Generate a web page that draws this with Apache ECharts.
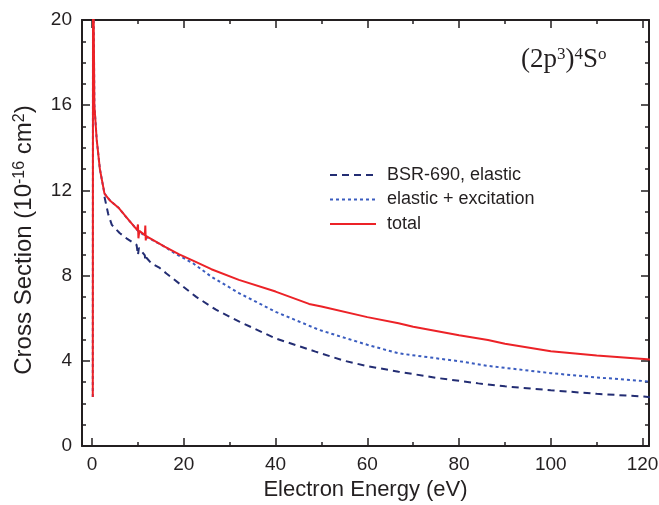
<!DOCTYPE html>
<html>
<head>
<meta charset="utf-8">
<script src="https://cdn.jsdelivr.net/npm/echarts@6/dist/echarts.min.js"></script>
<style>
  html, body { margin: 0; padding: 0; background: #fff; }
  #chart-container { width: 659px; height: 505px; }
</style>
</head>
<body>
<div id="chart-container"></div>
<script>
// Values: [energy (eV), cross section (1e-16 cm^2)]
const bsrElastic = [
  [2.7, 11.7], [3.5, 10.9], [4.3, 10.38], [6, 10.0], [7.5, 9.75], [9.7, 9.44],
  [9.9, 9.45], [10.0, 8.97], [10.2, 9.3], [11.5, 8.95], [11.6, 8.7], [11.8, 8.85],
  [12.9, 8.58], [14.75, 8.36], [16.2, 8.1], [22.7, 7.0], [27, 6.4], [32.1, 5.84],
  [40, 5.05], [48.7, 4.43], [55, 4.0], [60, 3.75], [66.8, 3.49], [75, 3.2],
  [84.2, 2.94], [90, 2.8], [100, 2.62], [110, 2.45], [120.3, 2.32], [122, 2.28]
];
const elasticExc = [
  [0.15, 2.3], [0.2, 21], [0.35, 20], [0.5, 16], [1.0, 14.4], [1.7, 13.0],
  [2.7, 11.85], [4, 11.5], [5.7, 11.2], [8, 10.6], [10, 10.1], [12, 9.8],
  [15.8, 9.36], [18, 9.05], [22, 8.58], [26, 7.95], [32.1, 7.17], [40, 6.3],
  [49.5, 5.45], [60, 4.75], [66.8, 4.35], [80, 3.98], [86.3, 3.76], [100, 3.42],
  [110, 3.22], [120.3, 3.05], [122, 3.0]
];
const total = [
  [0.15, 2.3], [0.2, 21], [0.35, 20], [0.5, 16], [1.0, 14.4], [1.7, 13.0],
  [2.7, 11.85], [4, 11.5], [5.7, 11.2], [8, 10.6], [9.8, 10.15], [10, 10.4],
  [10.1, 9.75], [10.3, 10.1], [11.5, 9.9], [11.6, 10.35], [11.7, 9.65], [11.8, 9.85],
  [15.8, 9.36], [19, 9.0], [22, 8.7], [26, 8.3], [32, 7.8], [40, 7.25],
  [47.3, 6.67], [50, 6.55], [60, 6.05], [66.8, 5.76], [70, 5.6], [80, 5.2],
  [86.3, 4.98], [90, 4.8], [100, 4.45], [110, 4.25], [120.3, 4.08], [122, 4.05]
];
const seriesNames = ['BSR-690, elastic', 'elastic + excitation', 'total'];
const xMajorTicks = [0, 20, 40, 60, 80, 100, 120];
const xMinorTicks = [10, 30, 50, 70, 90, 110];

const chart = echarts.init(document.getElementById('chart-container'));
const ink = '#231f20';
const sans = 'Liberation Sans';

// helper for the frame axes (x)
const frameX = (pos, ticks, len, withLine) => ({
  type: 'value', position: pos, min: -2.2, max: 121.4,
  axisLine: { show: withLine, onZero: false, lineStyle: { color: ink, width: 2 } },
  axisTick: { show: true, inside: true, length: len, customValues: ticks, lineStyle: { color: ink, width: 1.5 } },
  axisLabel: { show: false },
  splitLine: { show: false }
});

const xAxes = [
  Object.assign(frameX('bottom', xMajorTicks, 8, true), {
    axisLabel: { show: true, customValues: xMajorTicks, fontSize: 19, margin: 9, color: ink, fontFamily: sans },
    name: 'Electron Energy (eV)', nameLocation: 'middle', nameGap: 33,
    nameTextStyle: { fontSize: 22, color: ink, fontFamily: sans }
  }),
  frameX('bottom', xMinorTicks, 4, false),
  frameX('top', xMajorTicks, 8, true),
  frameX('top', xMinorTicks, 4, false)
];

const frameY = (pos, labels) => ({
  type: 'value', position: pos, min: 0, max: 20, interval: 4,
  axisLine: { show: true, onZero: false, lineStyle: { color: ink, width: 2 } },
  axisTick: { show: true, inside: true, length: 8, lineStyle: { color: ink, width: 1.5 } },
  minorTick: { show: true, splitNumber: 4, length: 4, lineStyle: { color: ink, width: 1.5 } },
  axisLabel: { show: labels, fontSize: 19, margin: 10, color: ink, fontFamily: sans },
  splitLine: { show: false }
});

const yAxes = [
  Object.assign(frameY('left', true), {
    name: 'Cross Section (10{sup|-16} cm{sup|2})', nameLocation: 'middle', nameGap: 46,
    nameTextStyle: {
      fontSize: 24, color: ink, fontFamily: sans, padding: [0, 14, 0, 0],
      rich: { sup: { fontSize: 16, verticalAlign: 'top', lineHeight: 16, color: ink, fontFamily: sans } }
    }
  }),
  frameY('right', false)
];

const cfg = {
  animation: false,
  grid: { left: 82, right: 10, top: 20, bottom: 59, containLabel: false, outerBoundsMode: 'none' },
  legend: {
    orient: 'vertical', left: 329, top: 166, padding: 0,
    itemWidth: 46, itemHeight: 14, itemGap: 6.5,
    itemStyle: { opacity: 0 },
    textStyle: { fontSize: 18, color: ink, fontFamily: sans, padding: [0, 0, 0, 6] },
    data: seriesNames
  },
  graphic: [{
    type: 'text', left: 521, top: 46,
    style: {
      text: '(2p{sup|3}){sup|4}S{sup|o}',
      fontSize: 27, fontFamily: 'Liberation Serif', fill: ink,
      rich: {
        sup: { fontSize: 17, fontFamily: 'Liberation Serif', verticalAlign: 'top', fill: ink }
      }
    }
  }],
  xAxis: xAxes,
  yAxis: yAxes,
  series: [
    {
      name: seriesNames[0], type: 'line', data: bsrElastic, showSymbol: false, symbol: 'none',
      lineStyle: { color: '#232d73', width: 2, type: [7, 5] }, itemStyle: { color: '#232d73' }
    },
    {
      name: seriesNames[1], type: 'line', data: elasticExc, showSymbol: false, symbol: 'none',
      lineStyle: { color: '#3a5cbf', width: 2, type: [3, 3] }, itemStyle: { color: '#3a5cbf' }
    },
    {
      name: seriesNames[2], type: 'line', data: total, showSymbol: false, symbol: 'none',
      lineStyle: { color: '#ec2227', width: 2 }, itemStyle: { color: '#ec2227' }
    }
  ]
};

chart.setOption(cfg);
</script>
</body>
</html>
